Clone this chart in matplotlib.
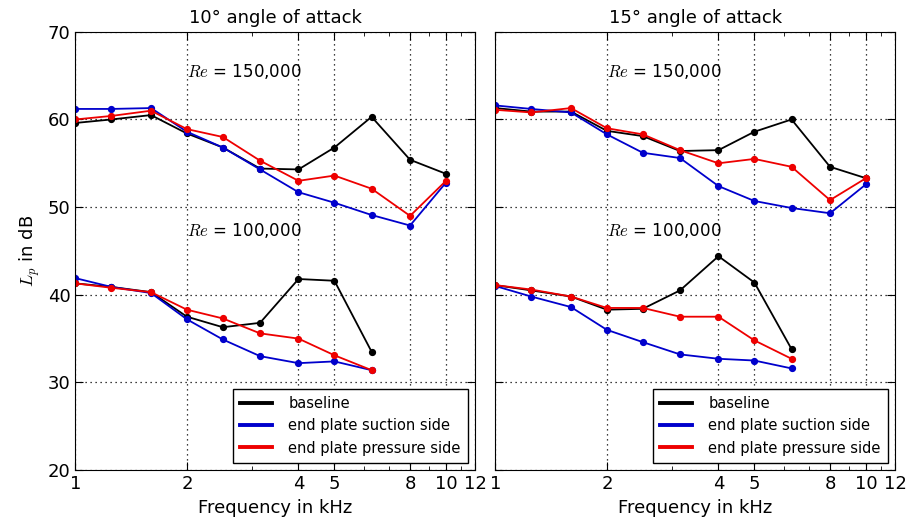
import matplotlib
matplotlib.use('Agg')
import matplotlib.pyplot as plt
from matplotlib.ticker import FixedLocator, FixedFormatter, NullFormatter
import numpy as np

freq = [1, 1.25, 1.6, 2, 2.5, 3.15, 4, 5, 6.3, 8, 10]
freq_low = freq[:9]

# 10 deg, Re = 150,000
a10_hi_base = [59.6, 60.0, 60.5, 58.4, 56.8, 54.4, 54.3, 56.8, 60.3, 55.4, 53.8]
a10_hi_suct = [61.2, 61.2, 61.3, 58.6, 56.8, 54.3, 51.7, 50.5, 49.1, 47.9, 52.8]
a10_hi_pres = [60.0, 60.4, 61.0, 58.9, 58.0, 55.3, 53.0, 53.6, 52.1, 49.0, 53.0]
# 10 deg, Re = 100,000
a10_lo_base = [41.3, 40.9, 40.3, 37.5, 36.3, 36.8, 41.8, 41.6, 33.5]
a10_lo_suct = [41.9, 40.9, 40.2, 37.2, 34.9, 33.0, 32.2, 32.4, 31.4]
a10_lo_pres = [41.3, 40.8, 40.3, 38.3, 37.3, 35.6, 35.0, 33.1, 31.4]
# 15 deg, Re = 150,000
a15_hi_base = [61.3, 60.9, 60.9, 58.7, 58.1, 56.4, 56.5, 58.6, 60.0, 54.6, 53.3]
a15_hi_suct = [61.6, 61.2, 60.8, 58.3, 56.2, 55.6, 52.4, 50.7, 49.9, 49.3, 52.6]
a15_hi_pres = [61.1, 60.8, 61.3, 59.0, 58.3, 56.5, 55.0, 55.5, 54.6, 50.8, 53.3]
# 15 deg, Re = 100,000
a15_lo_base = [41.1, 40.5, 39.8, 38.3, 38.4, 40.5, 44.4, 41.4, 33.8]
a15_lo_suct = [41.0, 39.8, 38.6, 36.0, 34.6, 33.2, 32.7, 32.5, 31.6]
a15_lo_pres = [41.1, 40.6, 39.8, 38.5, 38.5, 37.5, 37.5, 34.8, 32.7]

titles = ['10° angle of attack', '15° angle of attack']
labels = ['baseline', 'end plate suction side', 'end plate pressure side']
colors = ['black', '#0000cc', '#ee0000']
xticks = [1, 2, 4, 5, 8, 10, 12]

panels = [
    (a10_hi_base, a10_hi_suct, a10_hi_pres, a10_lo_base, a10_lo_suct, a10_lo_pres),
    (a15_hi_base, a15_hi_suct, a15_hi_pres, a15_lo_base, a15_lo_suct, a15_lo_pres),
]

plt.rcParams['font.family'] = 'DejaVu Sans'
plt.rcParams['mathtext.fontset'] = 'cm'
plt.rcParams['xtick.direction'] = 'in'
plt.rcParams['ytick.direction'] = 'in'

fig, axes = plt.subplots(1, 2, figsize=(9.08, 5.30), dpi=100, sharey=True)
fig.subplots_adjust(left=0.083, right=0.986, top=0.94, bottom=0.113, wspace=0.05)

for ax, title, data in zip(axes, titles, panels):
    hi = data[:3]
    lo = data[3:]
    for i in range(3):
        ax.plot(freq, hi[i], '-o', color=colors[i], lw=1.3, ms=4.2, mec=colors[i], label=labels[i])
        ax.plot(freq_low, lo[i], '-o', color=colors[i], lw=1.3, ms=4.2, mec=colors[i])
    ax.set_xscale('log')
    ax.set_xlim(1, 12)
    ax.set_ylim(20, 70)
    ax.xaxis.set_major_locator(FixedLocator(xticks))
    ax.xaxis.set_major_formatter(FixedFormatter([str(t) for t in xticks]))
    ax.xaxis.set_minor_locator(FixedLocator([3, 6, 7, 9, 11]))
    ax.xaxis.set_minor_formatter(NullFormatter())
    ax.set_yticks([20, 30, 40, 50, 60, 70])
    ax.tick_params(which='both', top=True, right=True, labelsize=13)
    ax.tick_params(which='major', length=6)
    ax.tick_params(which='minor', length=3)
    ax.grid(True, which='major', color='black', linestyle=(0, (1, 3)), linewidth=0.9)
    ax.set_title(title, fontsize=13)
    ax.set_xlabel('Frequency in kHz', fontsize=13)
    ax.text(2, 65.5, r'$Re$ = 150,000', fontsize=12, va='center')
    ax.text(2, 47.3, r'$Re$ = 100,000', fontsize=12, va='center')
    leg = ax.legend(loc='lower right', fontsize=10.5, fancybox=False, framealpha=1,
                    handlelength=2.2, handletextpad=1.1, borderpad=0.5,
                    labelspacing=0.5, borderaxespad=0.5)
    leg.get_frame().set_edgecolor('black')
    for line in leg.get_lines():
        line.set_marker('')
        line.set_linewidth(2.8)

axes[0].set_ylabel(r'$L_p$ in dB', fontsize=13)
axes[1].tick_params(labelleft=False)

fig.savefig('out.png', dpi=100, facecolor='white')
